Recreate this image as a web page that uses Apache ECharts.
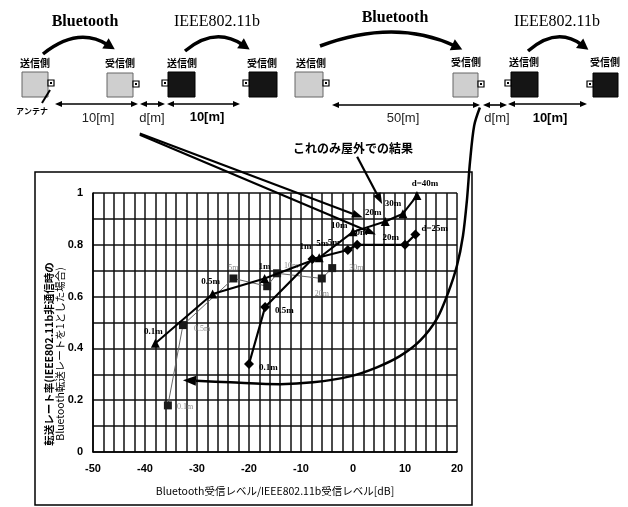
<!DOCTYPE html>
<html>
<head>
<meta charset="utf-8">
<script src="https://cdn.jsdelivr.net/npm/echarts@6/dist/echarts.min.js"></script>
<style>
  html, body { margin: 0; padding: 0; background: #fff; }
  #chart { width: 628px; height: 507px; }
</style>
</head>
<body>
<div id="chart"></div>
<script>
// axis ticks
const xTicks = [-50, -40, -30, -20, -10, 0, 10, 20];
const yTicks = [0, 0.2, 0.4, 0.6, 0.8, 1];

// triangles (thick line)
const triX = [-38, -27, -17, -6.5, 0, 6.2, 9.6, 12.3];
const triY = [0.42, 0.61, 0.67, 0.75, 0.85, 0.89, 0.92, 0.99];
const triLabels = ['0.1m', '0.5m', '1m', '5m', '10m', '20m', '30m', 'd=40m'];

// diamonds (thick line)
const diaX = [-20, -16.9, -7.8, -1, 0.8, 10, 12];
const diaY = [0.34, 0.56, 0.745, 0.78, 0.8, 0.8, 0.84];
const diaLabels = ['0.1m', '0.5m', '1m', '5m', '10m', '20m', 'd=25m'];

// squares (thin line)
const sqX = [-35.6, -32.7, -23, -16.5, -14.6, -6, -4];
const sqY = [0.18, 0.49, 0.67, 0.64, 0.69, 0.67, 0.71];
const sqLabels = ['0.1m', '0.5m', '5m', '', '10m', '20m', '30m'];

// curve from the 50 m setup's d[m] down into the chart (ends in an arrow)
const curveX = [24.4, 23.3, 22.5, 21.9, 21.15, 20.0, 18.3, 16.15, 12.9, 9.0, 4.6, -0.6, -7.7, -14, -23.6, -32.7];
const curveY = [1.33, 1.26, 1.12, 0.97, 0.835, 0.72, 0.615, 0.515, 0.43, 0.37, 0.327, 0.292, 0.269, 0.262, 0.269, 0.277];

// straight pointer arrows (from -> to)
const ptrFromX = [-41, -41, 0.8];
const ptrFromY = [1.23, 1.225, 1.14];
const ptrToX = [1.9, 4.4, 5.6];
const ptrToY = [0.905, 0.84, 0.958];

const serif = '"Liberation Serif", "DejaVu Serif", serif';
const sans = '"Liberation Sans", Arial, sans-serif';
const jp = '"Noto Sans CJK JP", sans-serif';

// label placement: [position, dx, dy]
const triPos = [['top', -2, 0], ['top', -2, 0], ['top', 0, 0], ['top', 3, -2], ['left', 2, -6], ['top', -12, 3], ['top', -10, 2], ['top', 8, 0]];
const diaPos = [['right', 2, 4], ['right', 2, 4], ['top', -7, 0], ['left', 0, -7], ['top', 2, 0], ['left', 2, -7], ['right', -2, -6]];
const sqPos = [['right', 2, 2], ['right', 4, 4], ['top', 0, 0], ['top', 0, 0], ['right', 0, -7], ['bottom', 0, 4], ['right', 10, 0]];

const chart = echarts.init(document.getElementById('chart'));

function pointData(xs, ys, labels, pos, style) {
  return xs.map((x, i) => ({
    value: [x, ys[i]],
    label: {
      show: labels[i] !== '',
      formatter: labels[i],
      position: pos[i][0],
      offset: [pos[i][1], pos[i][2]],
      distance: 3,
      ...style
    }
  }));
}

function headPoints(tip, from, len, half) {
  const a = Math.atan2(tip[1] - from[1], tip[0] - from[0]);
  const bx = tip[0] - len * Math.cos(a), by = tip[1] - len * Math.sin(a);
  return {
    base: [bx, by],
    pts: [tip, [bx + half * Math.sin(a), by - half * Math.cos(a)], [bx - half * Math.sin(a), by + half * Math.cos(a)]]
  };
}

// ---------- diagram on top (pixel layout) ----------
const g = [];
function txt(x, y, s, font, extra) {
  g.push({ type: 'text', x: x, y: y, style: Object.assign({ text: s, fill: '#000', align: 'center', verticalAlign: 'middle', font: font }, extra || {}) });
}
function box(x, y, w, h, dark, ax) {
  g.push({ type: 'rect', shape: { x: x, y: y, width: w, height: h }, style: { fill: dark ? '#151515' : '#cfcfcf', stroke: dark ? '#000' : '#666', lineWidth: 1 } });
  g.push({ type: 'rect', shape: { x: ax, y: y + 8, width: 6, height: 6 }, style: { fill: '#fff', stroke: '#000', lineWidth: 1.2 } });
  g.push({ type: 'rect', shape: { x: ax + 2, y: y + 10, width: 2, height: 2 }, style: { fill: '#000' } });
}
function curveArrow(x1, y1, cx, cy, x2, y2) {
  const d = Math.hypot(x2 - cx, y2 - cy);
  const h = headPoints([x2 + 8 * (x2 - cx) / d, y2 + 8 * (y2 - cy) / d], [cx, cy], 11, 6);
  g.push({ type: 'bezierCurve', shape: { x1: x1, y1: y1, x2: x2, y2: y2, cpx1: cx, cpy1: cy }, style: { stroke: '#000', lineWidth: 3.5, fill: 'none' } });
  g.push({ type: 'polygon', shape: { points: h.pts }, style: { fill: '#000' } });
}
function dblArrow(x1, x2, y) {
  g.push({ type: 'line', shape: { x1: x1 + 5, y1: y, x2: x2 - 5, y2: y }, style: { stroke: '#000', lineWidth: 1.6 } });
  g.push({ type: 'polygon', shape: { points: [[x1, y], [x1 + 7, y - 3], [x1 + 7, y + 3]] }, style: { fill: '#000' } });
  g.push({ type: 'polygon', shape: { points: [[x2, y], [x2 - 7, y - 3], [x2 - 7, y + 3]] }, style: { fill: '#000' } });
}

const titleBT = 'bold 16px ' + serif;
const titleW = '16px ' + serif;
const sideFont = 'bold 10px ' + jp;
const distFont = '13px ' + sans;
const distBold = 'bold 13px ' + sans;

// left setup: Bluetooth 10 m
txt(85, 22, 'Bluetooth', titleBT);
txt(217, 22, 'IEEE802.11b', titleW);
curveArrow(43, 54, 78, 26, 108, 45);
curveArrow(185, 51, 215, 26, 243, 45);
box(22, 72, 26, 25, false, 48);
box(107, 73, 26, 24, false, 133);
box(168, 72, 27, 25, true, 162);
box(249, 72, 28, 25, true, 243);
txt(35, 63, '送信側', sideFont);
txt(120, 63, '受信側', sideFont);
txt(182, 63, '送信側', sideFont);
txt(262, 63, '受信側', sideFont);
g.push({ type: 'line', shape: { x1: 50, y1: 90, x2: 42, y2: 103 }, style: { stroke: '#000', lineWidth: 2 } });
txt(32, 111, 'アンテナ', 'bold 8px ' + jp);
dblArrow(55, 138, 104);
dblArrow(140, 165, 104);
dblArrow(167, 240, 104);
txt(98, 118, '10[m]', distFont, { fill: '#222' });
txt(152, 118, 'd[m]', distFont, { fill: '#222' });
txt(207, 117, '10[m]', distBold);

// right setup: Bluetooth 50 m
txt(395, 18, 'Bluetooth', titleBT);
txt(557, 22, 'IEEE802.11b', titleW);
curveArrow(320, 46, 395, 18, 455, 46);
curveArrow(528, 51, 557, 26, 582, 45);
box(295, 72, 28, 25, false, 323);
box(453, 73, 25, 24, false, 478);
box(511, 72, 27, 25, true, 505);
box(593, 73, 25, 24, true, 587);
txt(311, 63, '送信側', sideFont);
txt(466, 62, '受信側', sideFont);
txt(524, 62, '送信側', sideFont);
txt(605, 62, '受信側', sideFont);
dblArrow(332, 480, 105);
dblArrow(483, 507, 105);
dblArrow(508, 587, 104);
txt(403, 118, '50[m]', distFont, { fill: '#222' });
txt(497, 118, 'd[m]', distFont, { fill: '#222' });
txt(550, 118, '10[m]', distBold);

txt(353, 148, 'これのみ屋外での結果', 'bold 12px ' + jp);

// chart frame and y-axis title
g.push({ type: 'rect', shape: { x: 35, y: 172, width: 437, height: 333 }, style: { fill: 'none', stroke: '#000', lineWidth: 1.5 }, z: -1 });
g.push({
  type: 'text', x: 55, y: 354, rotation: Math.PI / 2,
  style: {
    text: '{a|転送レート率(IEEE802.11b非通信時の}\n{b|Bluetooth転送レートを1とした場合)}',
    align: 'center', verticalAlign: 'middle',
    rich: {
      a: { fontFamily: jp, fontSize: 10.5, fontWeight: 'bold', lineHeight: 11, fill: '#000' },
      b: { fontFamily: jp, fontSize: 10.5, lineHeight: 11, fill: '#000' }
    }
  }
});

// ---------- chart ----------
const gridLine = { color: '#111', width: 1.5 };
const blackLbl = { color: '#000', fontFamily: serif, fontWeight: 'bold', fontSize: 9 };
const grayLbl = { color: '#8a8a8a', fontFamily: serif, fontSize: 8 };
const tickLbl = { color: '#000', fontSize: 11, fontFamily: sans, fontWeight: 'bold' };

const arrowData = ptrFromX.map((x, i) => [x, ptrFromY[i], ptrToX[i], ptrToY[i]]);

function arrowItem(params, api) {
  const p1 = api.coord([api.value(0), api.value(1)]);
  const p2 = api.coord([api.value(2), api.value(3)]);
  const h = headPoints(p2, p1, 11, 4);
  return {
    type: 'group',
    children: [
      { type: 'line', shape: { x1: p1[0], y1: p1[1], x2: h.base[0], y2: h.base[1] }, style: { stroke: '#000', lineWidth: 2.2 } },
      { type: 'polygon', shape: { points: h.pts }, style: { fill: '#000' } }
    ]
  };
}

// whole annotation curve drawn once, through the axis scales
function curveItem(params, api) {
  if (params.dataIndex !== 0) return null;
  const pts = curveX.map((x, i) => api.coord([x, curveY[i]]));
  const last = pts.length - 1;
  const h = headPoints(pts[last], pts[last - 1], 13, 5);
  const linePts = pts.slice(0, last).concat([h.base]);
  return {
    type: 'group',
    children: [
      { type: 'polyline', shape: { points: linePts, smooth: 0.3 }, style: { stroke: '#000', lineWidth: 2.5, fill: 'none' } },
      { type: 'polygon', shape: { points: h.pts }, style: { fill: '#000' } }
    ]
  };
}

const option = {
  animation: false,
  backgroundColor: '#fff',
  grid: { left: 93, right: 171, top: 193, bottom: 55 },
  xAxis: {
    type: 'value', min: -50, max: 20, interval: 10,
    name: 'Bluetooth受信レベル/IEEE802.11b受信レベル[dB]',
    nameLocation: 'middle', nameGap: 34,
    nameTextStyle: { fontFamily: jp, fontSize: 10.5, color: '#000' },
    axisLine: { onZero: false, lineStyle: { color: '#000', width: 1.5 } },
    axisTick: { show: false },
    axisLabel: { customValues: xTicks, margin: 11, ...tickLbl },
    splitLine: { lineStyle: gridLine },
    minorTick: { show: false, splitNumber: 5 },
    minorSplitLine: { show: true, lineStyle: gridLine }
  },
  yAxis: {
    type: 'value', min: 0, max: 1, interval: 0.2,
    axisLine: { onZero: false, lineStyle: { color: '#000', width: 1.5 } },
    axisTick: { show: false },
    axisLabel: { customValues: yTicks, margin: 10, ...tickLbl },
    splitLine: { lineStyle: gridLine },
    minorTick: { show: false, splitNumber: 2 },
    minorSplitLine: { show: true, lineStyle: gridLine }
  },
  graphic: { elements: g },
  series: [
    {
      name: 'squares', type: 'line', z: 3,
      data: pointData(sqX, sqY, sqLabels, sqPos, grayLbl),
      symbol: 'rect', symbolSize: 8,
      itemStyle: { color: '#1a1a1a' },
      lineStyle: { color: '#666', width: 1 }
    },
    {
      name: 'diamonds', type: 'line', z: 4,
      data: pointData(diaX, diaY, diaLabels, diaPos, blackLbl),
      symbol: 'diamond', symbolSize: 10,
      itemStyle: { color: '#000' },
      lineStyle: { color: '#000', width: 2.2 }
    },
    {
      name: 'triangles', type: 'line', z: 5,
      data: pointData(triX, triY, triLabels, triPos, blackLbl),
      symbol: 'triangle', symbolSize: 9,
      itemStyle: { color: '#000' },
      lineStyle: { color: '#000', width: 2 }
    },
    {
      name: 'curve', type: 'custom', clip: false, z: 6,
      data: curveX.map((x, i) => [x, curveY[i]]),
      encode: { x: 0, y: 1 },
      renderItem: curveItem
    },
    {
      name: 'pointers', type: 'custom', clip: false, z: 6,
      data: arrowData,
      encode: { x: [0, 2], y: [1, 3] },
      renderItem: arrowItem
    }
  ]
};

chart.setOption(option);
</script>
</body>
</html>
